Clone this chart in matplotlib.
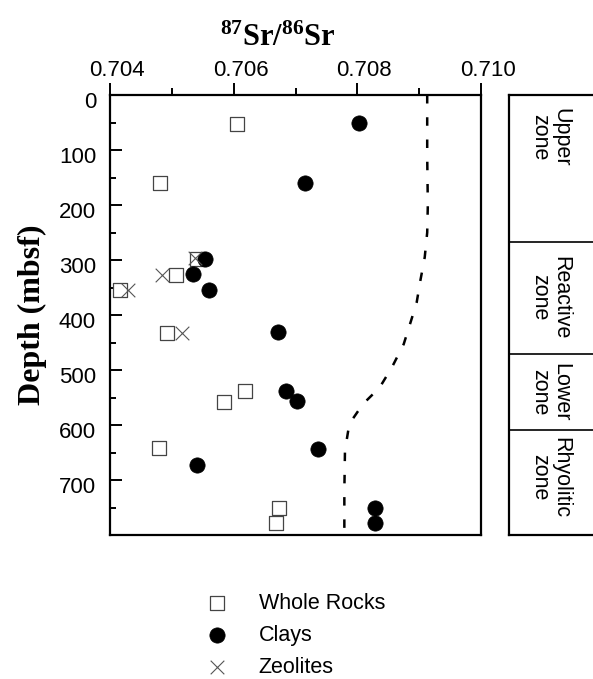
import matplotlib
matplotlib.use("Agg")
import matplotlib.pyplot as plt
import matplotlib.transforms as mtransforms

plt.rcParams['font.family'] = ['Liberation Sans', 'DejaVu Sans']
plt.rcParams['mathtext.fontset'] = 'custom'
plt.rcParams['mathtext.rm'] = 'Liberation Serif:bold'
plt.rcParams['mathtext.it'] = 'Liberation Serif:bold'
plt.rcParams['mathtext.bf'] = 'Liberation Serif:bold'

# ---- data ----
wr_sr = [0.70605, 0.70481, 0.70541, 0.70506, 0.70416, 0.70492, 0.70618, 0.70584, 0.70480, 0.70673, 0.70668]
wr_depth = [53, 160, 298, 328, 354, 433, 538, 559, 641, 750, 778]

clay_sr = [0.70803, 0.70715, 0.70554, 0.70535, 0.70560, 0.70672, 0.70684, 0.70703, 0.70736, 0.70541, 0.70829, 0.70829]
clay_depth = [51, 160, 298, 326, 354, 431, 538, 557, 644, 673, 750, 778]

zeo_sr = [0.70537, 0.70484, 0.70429, 0.70516]
zeo_depth = [297, 328, 354, 433]

fluid_depth = [0, 110, 200, 250, 295, 337, 377, 410, 453, 495, 532, 562, 598, 647, 720, 800]
fluid_sr = [0.70913, 0.70913, 0.70914, 0.70913, 0.70909, 0.70902, 0.70896, 0.70887,
            0.70875, 0.70856, 0.70836, 0.70809, 0.70787, 0.70780, 0.70779, 0.70779]

zone_names = ["Upper\nzone", "Reactive\nzone", "Lower\nzone", "Rhyolitic\nzone"]
zone_bounds = [267, 470, 609]
zone_label_depth = [77, 368, 540, 695]

xticks = [0.704, 0.706, 0.708, 0.710]
xtick_labels = ["0.704", "0.706", "0.708", "0.710"]
yticks = [0, 100, 200, 300, 400, 500, 600, 700]
ytick_labels = ["0", "100", "200", "300", "400", "500", "600", "700"]
legend_labels = ["Whole Rocks", "Clays", "Zeolites"]

# ---- figure ----
W, H = 593, 679
fig = plt.figure(figsize=(W / 100, H / 100), dpi=100)

def px_box(x0, y0, x1, y1):
    return [x0 / W, 1 - y1 / H, (x1 - x0) / W, (y1 - y0) / H]

ax = fig.add_axes(px_box(110, 95, 481, 535))
ax.set_xlim(0.704, 0.710)
ax.set_ylim(800, 0)

ax.plot(fluid_sr, fluid_depth, color='black', lw=1.8, linestyle=(0, (3.4, 5.5)), zorder=1)
ax.scatter(wr_sr, wr_depth, marker='s', s=10.5 ** 2, facecolor='white',
           edgecolor='#444444', linewidths=0.9, zorder=3, label=legend_labels[0])
ax.scatter(clay_sr, clay_depth, marker='o', s=11 ** 2, facecolor='black',
           edgecolor='black', linewidths=0.5, zorder=4, label=legend_labels[1])
ax.scatter(zeo_sr, zeo_depth, marker='x', s=9.8 ** 2, color='#555555',
           linewidths=0.8, zorder=5, label=legend_labels[2])

ax.xaxis.tick_top()
ax.set_xticks(xticks)
ax.set_xticklabels(xtick_labels)
ax.set_xticks([0.705, 0.707, 0.709], minor=True)
ax.tick_params(axis='x', which='major', direction='out', length=9, width=1.4,
               labelsize=16, pad=1, top=True, bottom=False)
ax.tick_params(axis='x', which='minor', direction='out', length=4.8, width=1.4,
               top=True, bottom=False)

ax.set_yticks(yticks)
ax.set_yticklabels(ytick_labels)
ax.set_yticks([50, 150, 250, 350, 450, 550, 650, 750], minor=True)
ax.tick_params(axis='y', which='major', direction='in', length=8.4, width=1.4,
               labelsize=16, pad=10, left=True, right=False)
ax.tick_params(axis='y', which='minor', direction='in', length=4.3, width=1.4,
               left=True, right=False)

for sp in ax.spines.values():
    sp.set_linewidth(1.6)

off_y = mtransforms.ScaledTranslation(0, -5 / 100, fig.dpi_scale_trans)
for lbl in ax.get_yticklabels():
    lbl.set_transform(lbl.get_transform() + off_y)
off_x = mtransforms.ScaledTranslation(7 / 100, 0, fig.dpi_scale_trans)
for lbl in ax.get_xticklabels():
    lbl.set_transform(lbl.get_transform() + off_x)

ax.set_ylabel("Depth (mbsf)", family='Liberation Serif', fontweight='bold',
              fontsize=23)
ax.yaxis.set_label_coords((47 - 110) / 371, 0.5)

fig.text(278 / W, 1 - 38 / H, r'$^{87}\mathrm{Sr}/^{86}\mathrm{Sr}$',
         ha='center', va='center', fontsize=22)

# ---- zone panel ----
zx = fig.add_axes(px_box(509, 95, 640, 535))
zx.set_xlim(0, 1)
zx.set_ylim(800, 0)
zx.set_xticks([])
zx.set_yticks([])
zx.spines['right'].set_visible(False)
for sp in ['left', 'top', 'bottom']:
    zx.spines[sp].set_linewidth(1.6)
for b in zone_bounds:
    zx.axhline(b, color='black', lw=1.2)
for name, d in zip(zone_names, zone_label_depth):
    zx.text(41 / 131, d, name, rotation=270, ha='center', va='center',
            multialignment='center', fontsize=15.5, linespacing=1.0)

# ---- legend ----
handles, labels = ax.get_legend_handles_labels()
fig.legend(handles, labels, loc='upper left',
           bbox_to_anchor=(195 / W, 1 - 593 / H), frameon=False,
           fontsize=15.5, handletextpad=0.95, labelspacing=0.5,
           borderpad=0, borderaxespad=0, handlelength=2.0)

fig.savefig("out.png", dpi=100)
